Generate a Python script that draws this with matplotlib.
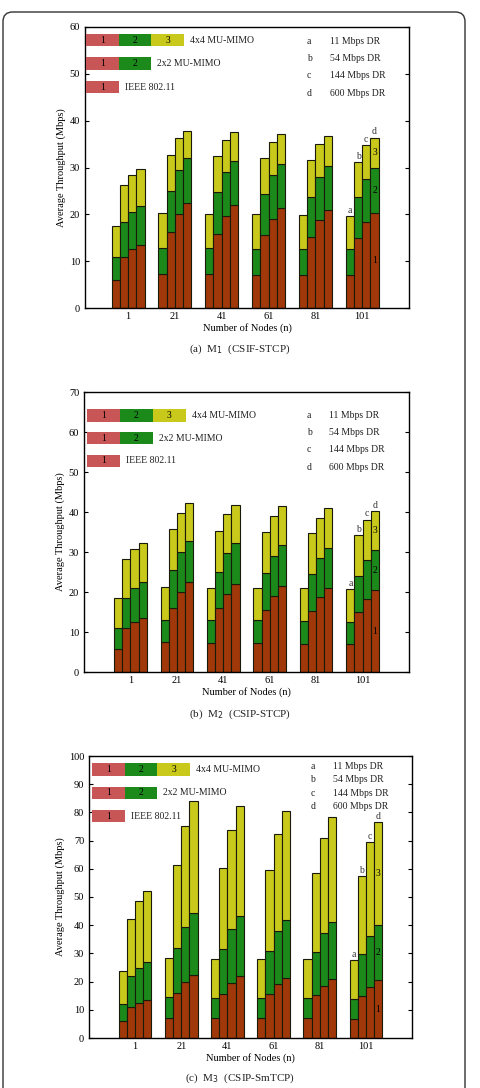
import matplotlib
matplotlib.use("Agg")
import matplotlib.pyplot as plt
from matplotlib.patches import Rectangle, FancyBboxPatch
import numpy as np

plt.rcParams['font.family'] = ['Liberation Serif', 'DejaVu Serif']

nodes = ['1', '21', '41', '61', '81', '101']
rates = ['a', 'b', 'c', 'd']
rate_labels = ['11 Mbps DR', '54 Mbps DR', '144 Mbps DR', '600 Mbps DR']

# cumulative levels per group: rows = node groups, cols = data rates (a,b,c,d)
# Panel (a) M1 (CSIF-STCP)
a_ieee = [[5.9, 10.9, 12.6, 13.4], [7.3, 16.2, 20.0, 22.4], [7.2, 15.7, 19.6, 21.9],
          [7.1, 15.5, 19.1, 21.4], [7.0, 15.2, 18.7, 20.9], [7.0, 14.9, 18.3, 20.3]]
a_2x2 = [[10.9, 18.3, 20.4, 21.7], [12.8, 24.9, 29.4, 32.0], [12.8, 24.7, 29.0, 31.4],
         [12.7, 24.3, 28.5, 30.8], [12.6, 23.8, 28.0, 30.3], [12.5, 23.6, 27.5, 29.9]]
a_4x4 = [[17.5, 26.3, 28.5, 29.7], [20.3, 32.6, 36.2, 37.9], [20.1, 32.4, 35.8, 37.6],
         [20.0, 32.1, 35.4, 37.2], [19.9, 31.7, 35.0, 36.8], [19.7, 31.2, 34.7, 36.4]]
# Panel (b) M2 (CSIP-STCP)
b_ieee = [[5.8, 10.9, 12.5, 13.6], [7.4, 16.1, 20.0, 22.4], [7.3, 15.9, 19.6, 21.9],
          [7.2, 15.5, 19.1, 21.4], [7.1, 15.3, 18.8, 20.9], [7.0, 15.1, 18.3, 20.4]]
b_2x2 = [[10.9, 18.4, 21.1, 22.4], [13.1, 25.4, 30.1, 32.7], [12.9, 25.1, 29.7, 32.2],
         [12.9, 24.8, 29.1, 31.7], [12.7, 24.5, 28.6, 31.0], [12.6, 24.1, 28.1, 30.5]]
b_4x4 = [[18.4, 28.2, 30.8, 32.2], [21.2, 35.7, 39.8, 42.2], [21.1, 35.3, 39.4, 41.8],
         [21.1, 34.9, 39.1, 41.4], [21.0, 34.7, 38.6, 40.9], [20.8, 34.3, 38.1, 40.3]]
# Panel (c) M3 (CSIP-SmTCP)
c_ieee = [[5.9, 11.0, 12.5, 13.6], [7.2, 16.1, 20.0, 22.5], [7.1, 15.7, 19.6, 21.9],
          [7.1, 15.5, 19.0, 21.3], [7.0, 15.2, 18.6, 20.8], [6.9, 14.9, 18.1, 20.4]]
c_2x2 = [[11.9, 21.9, 24.9, 26.8], [14.5, 31.9, 39.4, 44.2], [14.3, 31.4, 38.5, 43.1],
         [14.3, 31.0, 37.9, 42.0], [14.2, 30.5, 37.4, 41.1], [13.9, 29.8, 36.1, 40.0]]
c_4x4 = [[23.6, 42.3, 48.5, 52.0], [28.5, 61.3, 75.2, 83.9], [28.1, 60.4, 73.9, 82.2],
         [28.0, 59.5, 72.2, 80.4], [27.9, 58.5, 70.8, 78.4], [27.5, 57.4, 69.5, 76.5]]

panels = [
    dict(ieee=a_ieee, m2=a_2x2, m4=a_4x4, ymax=60, caption='(a)  M$_1$  (CSIF-STCP)',
         rect=(85, 27, 409, 308), xlim=(0.08, 7.0), leg_rows=(0.953, 0.870, 0.786), leg_x0=0.003,
         dr_rows=(0.947, 0.887, 0.828, 0.765), cap_y=349),
    dict(ieee=b_ieee, m2=b_2x2, m4=b_4x4, ymax=70, caption='(b)  M$_2$  (CSIP-STCP)',
         rect=(84, 392, 409, 672), xlim=(0.0, 7.0), leg_rows=(0.916, 0.835, 0.754), leg_x0=0.010,
         dr_rows=(0.915, 0.854, 0.794, 0.731), cap_y=714),
    dict(ieee=c_ieee, m2=c_2x2, m4=c_4x4, ymax=100, caption='(c)  M$_3$  (CSIP-SmTCP)',
         rect=(89, 756, 412, 1038), xlim=(0.0, 7.0), leg_rows=(0.952, 0.870, 0.787), leg_x0=0.010,
         dr_rows=(0.962, 0.915, 0.868, 0.821), cap_y=1078),
]

W, H = 481, 1088
fig = plt.figure(figsize=(W / 100, H / 100), dpi=100)

# outer rounded frame
frame = FancyBboxPatch((3 / W, -20 / H), 462 / W, (H - 12 + 20) / H,
                       boxstyle="round,pad=0,rounding_size=0.02",
                       transform=fig.transFigure, facecolor='none',
                       edgecolor='#333333', linewidth=1.0, mutation_aspect=W / H)
fig.patches.append(frame)

C_BROWN = '#a0380a'
C_GREEN = '#1b8a1b'
C_YELLOW = '#c9c91c'
C_LRED = '#c95656'
EDGE = '#1a1a0a'
FS = 7.5
LFS = 7.0

bw = 0.176
offsets = np.array([-1.5, -0.5, 0.5, 1.5]) * bw
x = np.arange(1, len(nodes) + 1)

for p in panels:
    l, t, r, b = p['rect']
    ax = fig.add_axes([l / W, 1 - b / H, (r - l) / W, (b - t) / H])
    ieee = np.array(p['ieee'])
    m2 = np.array(p['m2'])
    m4 = np.array(p['m4'])
    for k in range(4):
        xs = x + offsets[k]
        ax.bar(xs, ieee[:, k], width=bw, color=C_BROWN, edgecolor=EDGE, linewidth=0.8, zorder=2)
        ax.bar(xs, m2[:, k] - ieee[:, k], bottom=ieee[:, k], width=bw, color=C_GREEN,
               edgecolor=EDGE, linewidth=0.8, zorder=2)
        ax.bar(xs, m4[:, k] - m2[:, k], bottom=m2[:, k], width=bw, color=C_YELLOW,
               edgecolor=EDGE, linewidth=0.8, zorder=2)
        # rate letters above last group
        ax.text(x[-1] + offsets[k], m4[-1, k] + p['ymax'] * 0.004, rates[k], ha='center',
                va='bottom', fontsize=LFS, color='#333333')
    # segment numbers inside last bar of last group
    xd = x[-1] + offsets[3]
    ax.text(xd, ieee[-1, 3] / 2, '1', ha='center', va='center', fontsize=LFS)
    ax.text(xd, (ieee[-1, 3] + m2[-1, 3]) / 2, '2', ha='center', va='center', fontsize=LFS)
    ax.text(xd, (m2[-1, 3] + m4[-1, 3]) / 2, '3', ha='center', va='center', fontsize=LFS)

    ax.set_xlim(*p['xlim'])
    ax.set_ylim(0, p['ymax'])
    ax.set_xticks(x)
    ax.set_xticklabels(nodes, fontsize=FS)
    ax.set_yticks(np.arange(0, p['ymax'] + 1, 10))
    ax.tick_params(axis='y', labelsize=FS, direction='in', length=3, right=True, width=0.8)
    ax.tick_params(axis='x', labelsize=FS, direction='in', length=0, pad=3)
    for s in ax.spines.values():
        s.set_linewidth(1.0)
    ax.set_xlabel('Number of Nodes (n)', fontsize=FS, labelpad=1)
    ax.set_ylabel('Average Throughput (Mbps)', fontsize=FS, labelpad=3)

    # custom legend (left)
    seg_w = 0.101
    box_h = 0.043
    cols = [C_LRED, C_GREEN, C_YELLOW]
    names = ['4x4 MU-MIMO', '2x2 MU-MIMO', 'IEEE 802.11']
    nseg = [3, 2, 1]
    for row, (yc, n, name) in enumerate(zip(p['leg_rows'], nseg, names)):
        for s in range(n):
            ax.add_patch(Rectangle((p['leg_x0'] + s * seg_w, yc - box_h / 2), seg_w, box_h,
                                   transform=ax.transAxes, facecolor=cols[s],
                                   edgecolor='none', zorder=3))
            ax.text(p['leg_x0'] + (s + 0.5) * seg_w, yc, str(s + 1), transform=ax.transAxes,
                    ha='center', va='center', fontsize=LFS, zorder=4)
        ax.text(p['leg_x0'] + n * seg_w + 0.018, yc, name, transform=ax.transAxes,
                ha='left', va='center', fontsize=LFS, color='#222222')
    # data-rate key (right)
    for yy, rl, lab in zip(p['dr_rows'], rates, rate_labels):
        ax.text(0.685, yy, rl, transform=ax.transAxes, ha='left', va='center', fontsize=LFS,
                color='#222222')
        ax.text(0.755, yy, lab, transform=ax.transAxes, ha='left', va='center', fontsize=LFS,
                color='#222222')

    fig.text(240 / W, 1 - p['cap_y'] / H, p['caption'], ha='center', va='center',
             fontsize=8, color='#222222')

fig.savefig('out.png', dpi=100)
